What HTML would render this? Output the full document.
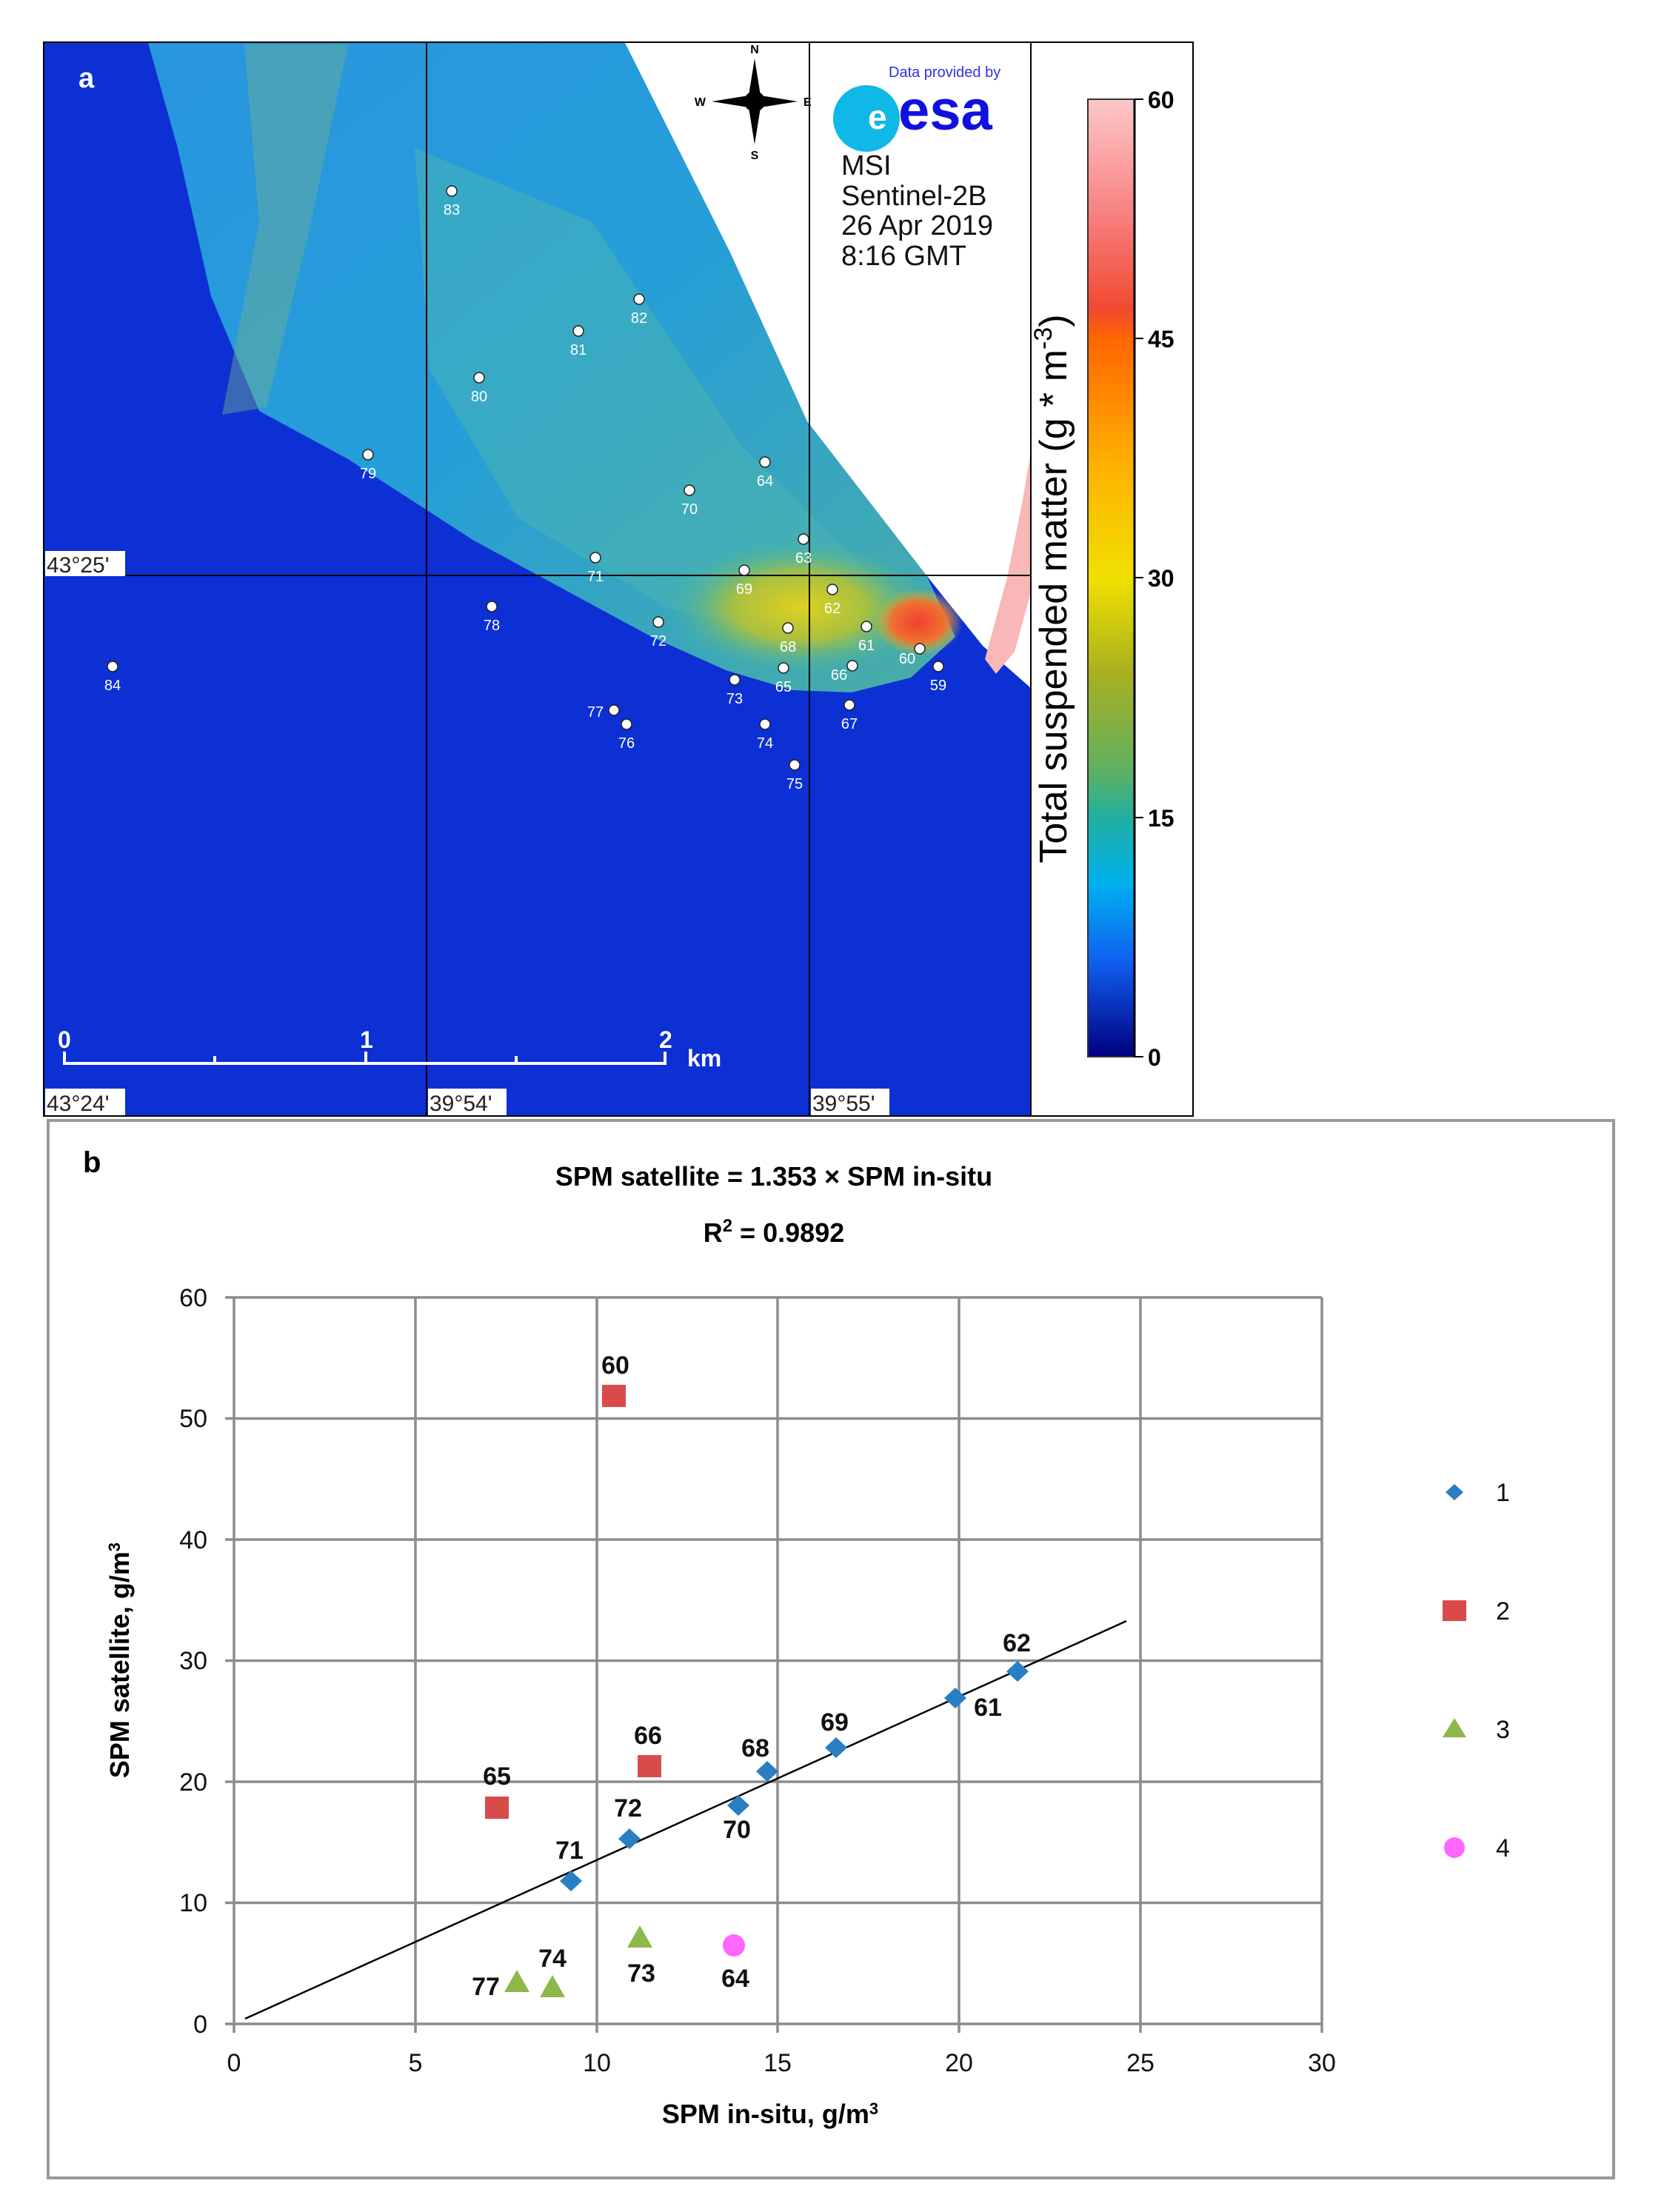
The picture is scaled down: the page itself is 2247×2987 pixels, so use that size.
<!DOCTYPE html>
<html><head><meta charset="utf-8"><style>
html,body{margin:0;padding:0;background:#fff;}
svg{display:block;}
text{font-family:"Liberation Sans",sans-serif;}
</style></head><body>
<svg width="2247" height="2987" viewBox="0 0 2247 2987" xmlns="http://www.w3.org/2000/svg">
<defs>
<linearGradient id="cb" x1="0" y1="0" x2="0" y2="1">
<stop offset="0" stop-color="#fcc8c8"/>
<stop offset="0.12" stop-color="#f88080"/>
<stop offset="0.22" stop-color="#f04a30"/>
<stop offset="0.25" stop-color="#ff6600"/>
<stop offset="0.38" stop-color="#ffb000"/>
<stop offset="0.5" stop-color="#f0e000"/>
<stop offset="0.6" stop-color="#a8b020"/>
<stop offset="0.7" stop-color="#60b060"/>
<stop offset="0.75" stop-color="#20b0a0"/>
<stop offset="0.82" stop-color="#00b0f0"/>
<stop offset="0.9" stop-color="#1060f0"/>
<stop offset="1" stop-color="#000080"/>
</linearGradient>
<radialGradient id="core" cx="0.5" cy="0.5" r="0.5">
<stop offset="0" stop-color="#e0d020"/>
<stop offset="0.5" stop-color="#a8c040"/>
<stop offset="1" stop-color="#40b8a0" stop-opacity="0"/>
</radialGradient>
<radialGradient id="red" cx="0.5" cy="0.5" r="0.5">
<stop offset="0" stop-color="#f04030"/>
<stop offset="0.6" stop-color="#f07030"/>
<stop offset="1" stop-color="#e0c020" stop-opacity="0"/>
</radialGradient>
<linearGradient id="plume" x1="0" y1="0" x2="1" y2="1">
<stop offset="0" stop-color="#2a9ee0"/>
<stop offset="0.5" stop-color="#28a8d8"/>
<stop offset="1" stop-color="#50b8a0"/>
</linearGradient>
</defs>

<!-- Panel a -->
<rect x="59" y="57" width="1552" height="1450" fill="#fff" stroke="#000" stroke-width="2"/>
<rect x="60" y="58" width="1332" height="1448" fill="#0c30d4"/>
<polygon points="200,58 844,58 986,341 1090,569 1251,777 1290,860 1230,915 1150,935 1070,932 980,905 880,860 640,730 470,620 350,555 285,400 240,200" fill="url(#plume)" opacity="0.92"/>
<polygon points="330,60 470,60 420,300 360,550 300,560 350,300" fill="#70b090" opacity="0.45"/>
<polygon points="560,200 800,300 1000,600 1200,800 1150,880 900,820 700,700 580,500" fill="#50b8b0" opacity="0.45"/>
<ellipse cx="1080" cy="820" rx="180" ry="90" fill="url(#core)"/>
<ellipse cx="1240" cy="840" rx="60" ry="45" fill="url(#red)"/>
<polygon points="844,58 1392,58 1392,929 1327,872 1251,777 1090,569 986,341" fill="#fff"/>
<polygon points="1330,890 1360,780 1380,680 1392,610 1392,800 1370,880 1345,910" fill="#f8b8b8"/>
<line x1="576" y1="58" x2="576" y2="1506" stroke="#000" stroke-width="2"/>
<line x1="1093" y1="58" x2="1093" y2="1506" stroke="#000" stroke-width="2"/>
<line x1="60" y1="777" x2="1392" y2="777" stroke="#000" stroke-width="2"/>
<line x1="1392" y1="58" x2="1392" y2="1506" stroke="#000" stroke-width="2"/>
<text x="106" y="118" font-size="38" font-weight="bold" fill="#fff">a</text>
<g transform="translate(1019,137)" fill="#000">
<polygon points="0,-58 8,-8 0,0 -8,-8"/><polygon points="0,58 8,8 0,0 -8,8"/>
<polygon points="-58,0 -8,-8 0,0 -8,8"/><polygon points="58,0 8,-8 0,0 8,8"/>
<circle r="14"/>
<text x="0" y="-65" font-size="16" text-anchor="middle" font-weight="bold">N</text>
<text x="0" y="78" font-size="16" text-anchor="middle" font-weight="bold">S</text>
<text x="-66" y="6" font-size="16" text-anchor="end" font-weight="bold">W</text>
<text x="66" y="6" font-size="16" font-weight="bold">E</text>
</g>
<circle cx="1170" cy="160" r="45" fill="#10b8e8"/>
<text x="1172" y="174" font-size="46" font-weight="bold" fill="#fff">e</text>
<text x="1213" y="175" font-size="76" font-weight="bold" fill="#1010e0">esa</text>
<text x="1200" y="104" font-size="20" fill="#3030e0">Data provided by</text>
<g font-size="38" fill="#111">
<text x="1136" y="236">MSI</text>
<text x="1136" y="277">Sentinel-2B</text>
<text x="1136" y="317">26 Apr 2019</text>
<text x="1136" y="358">8:16 GMT</text>
</g>
<rect x="1469" y="134" width="63" height="1293" fill="url(#cb)" stroke="#333" stroke-width="2"/>
<line x1="1532" y1="134" x2="1532" y2="1427" stroke="#000" stroke-width="3"/>
<g font-size="32" font-weight="bold" fill="#000" font-family="Liberation Mono">
<line x1="1532" y1="134" x2="1544" y2="134" stroke="#000" stroke-width="2"/><text x="1550" y="146">60</text>
<line x1="1532" y1="457" x2="1544" y2="457" stroke="#000" stroke-width="2"/><text x="1550" y="469">45</text>
<line x1="1532" y1="780" x2="1544" y2="780" stroke="#000" stroke-width="2"/><text x="1550" y="792">30</text>
<line x1="1532" y1="1104" x2="1544" y2="1104" stroke="#000" stroke-width="2"/><text x="1550" y="1116">15</text>
<line x1="1532" y1="1427" x2="1544" y2="1427" stroke="#000" stroke-width="2"/><text x="1550" y="1439">0</text>
</g>
<text transform="translate(1440,795) rotate(-90)" font-size="52" text-anchor="middle" fill="#000">Total suspended matter (g * m<tspan dy="-20" font-size="34">-3</tspan><tspan dy="20">)</tspan></text>
<g stroke="#fff" stroke-width="4" fill="none">
<line x1="85" y1="1436" x2="900" y2="1436"/>
<line x1="87" y1="1420" x2="87" y2="1436"/><line x1="290" y1="1426" x2="290" y2="1436"/>
<line x1="494" y1="1420" x2="494" y2="1436"/><line x1="697" y1="1426" x2="697" y2="1436"/>
<line x1="898" y1="1420" x2="898" y2="1436"/>
</g>
<g font-size="32" font-weight="bold" fill="#fff">
<text x="78" y="1415">0</text><text x="486" y="1415">1</text><text x="890" y="1415">2</text><text x="928" y="1440">km</text>
</g>
<g font-size="30" fill="#222">
<rect x="61" y="744" width="108" height="34" fill="#fff"/><text x="63" y="773">43°25'</text>
<rect x="61" y="1470" width="108" height="36" fill="#fff"/><text x="63" y="1500">43°24'</text>
<rect x="578" y="1470" width="106" height="36" fill="#fff"/><text x="580" y="1500">39°54'</text>
<rect x="1095" y="1470" width="106" height="36" fill="#fff"/><text x="1097" y="1500">39°55'</text>
</g>
<g fill="#fff" stroke="#222" stroke-width="1.5">
<circle cx="610" cy="258" r="7"/><circle cx="863" cy="404" r="7"/><circle cx="781" cy="447" r="7"/>
<circle cx="647" cy="510" r="7"/><circle cx="497" cy="614" r="7"/><circle cx="1033" cy="624" r="7"/>
<circle cx="931" cy="662" r="7"/><circle cx="1085" cy="728" r="7"/><circle cx="804" cy="753" r="7"/>
<circle cx="1005" cy="770" r="7"/><circle cx="1124" cy="796" r="7"/><circle cx="664" cy="819" r="7"/>
<circle cx="889" cy="840" r="7"/><circle cx="1064" cy="848" r="7"/><circle cx="1170" cy="846" r="7"/>
<circle cx="1242" cy="876" r="7"/><circle cx="1151" cy="899" r="7"/><circle cx="1058" cy="902" r="7"/>
<circle cx="1267" cy="900" r="7"/><circle cx="152" cy="900" r="7"/><circle cx="992" cy="918" r="7"/>
<circle cx="1147" cy="952" r="7"/><circle cx="829" cy="959" r="7"/><circle cx="846" cy="978" r="7"/>
<circle cx="1033" cy="978" r="7"/><circle cx="1073" cy="1033" r="7"/>
</g>
<g fill="#fff" font-size="20" text-anchor="middle">
<text x="610" y="290">83</text><text x="863" y="436">82</text><text x="781" y="479">81</text>
<text x="647" y="542">80</text><text x="497" y="646">79</text><text x="1033" y="656">64</text>
<text x="931" y="694">70</text><text x="1085" y="760">63</text><text x="804" y="785">71</text>
<text x="1005" y="802">69</text><text x="1124" y="828">62</text><text x="664" y="851">78</text>
<text x="889" y="872">72</text><text x="1064" y="880">68</text><text x="1170" y="878">61</text>
<text x="1225" y="896">60</text><text x="1133" y="918">66</text><text x="1058" y="934">65</text>
<text x="1267" y="932">59</text><text x="152" y="932">84</text><text x="992" y="950">73</text>
<text x="1147" y="984">67</text><text x="804" y="968">77</text><text x="846" y="1010">76</text>
<text x="1033" y="1010">74</text><text x="1073" y="1065">75</text>
</g>

<!-- Panel b -->
<rect x="65" y="1513" width="2114" height="1428" fill="#fff" stroke="#999" stroke-width="4"/>
<text x="112" y="1583" font-size="40" font-weight="bold" fill="#000">b</text>
<text x="1045" y="1601" font-size="36" font-weight="bold" text-anchor="middle">SPM satellite = 1.353 × SPM in-situ</text>
<text x="1045" y="1677" font-size="36" font-weight="bold" text-anchor="middle">R<tspan dy="-14" font-size="24">2</tspan><tspan dy="14"> = 0.9892</tspan></text>
<g stroke="#8c8c8c" stroke-width="3.5">
<line x1="316" y1="1752" x2="1785" y2="1752"/><line x1="316" y1="1915.5" x2="1785" y2="1915.5"/>
<line x1="316" y1="2079" x2="1785" y2="2079"/><line x1="316" y1="2242.5" x2="1785" y2="2242.5"/>
<line x1="316" y1="2406" x2="1785" y2="2406"/><line x1="316" y1="2569.5" x2="1785" y2="2569.5"/>
<line x1="304" y1="2733" x2="1785" y2="2733"/>
<line x1="316" y1="1752" x2="316" y2="2745"/><line x1="561" y1="1752" x2="561" y2="2745"/>
<line x1="806" y1="1752" x2="806" y2="2745"/><line x1="1050" y1="1752" x2="1050" y2="2745"/>
<line x1="1295" y1="1752" x2="1295" y2="2745"/><line x1="1540" y1="1752" x2="1540" y2="2745"/>
<line x1="1785" y1="1752" x2="1785" y2="2745"/>
<line x1="304" y1="1752" x2="316" y2="1752"/><line x1="304" y1="1915.5" x2="316" y2="1915.5"/>
<line x1="304" y1="2079" x2="316" y2="2079"/><line x1="304" y1="2242.5" x2="316" y2="2242.5"/>
<line x1="304" y1="2406" x2="316" y2="2406"/><line x1="304" y1="2569.5" x2="316" y2="2569.5"/>
</g>
<g font-size="34" fill="#111" text-anchor="end">
<text x="280" y="1764">60</text><text x="280" y="1927">50</text><text x="280" y="2091">40</text>
<text x="280" y="2254">30</text><text x="280" y="2418">20</text><text x="280" y="2581">10</text><text x="280" y="2745">0</text>
</g>
<g font-size="34" fill="#111" text-anchor="middle">
<text x="316" y="2797">0</text><text x="561" y="2797">5</text><text x="806" y="2797">10</text>
<text x="1050" y="2797">15</text><text x="1295" y="2797">20</text><text x="1540" y="2797">25</text><text x="1785" y="2797">30</text>
</g>
<text x="1040" y="2867" font-size="36" font-weight="bold" text-anchor="middle">SPM in-situ, g/m<tspan dy="-12" font-size="22">3</tspan></text>
<text transform="translate(174,2242) rotate(-90)" font-size="36" font-weight="bold" text-anchor="middle">SPM satellite, g/m<tspan dy="-12" font-size="22">3</tspan></text>
<line x1="331" y1="2726" x2="1521" y2="2189" stroke="#000" stroke-width="2.5"/>
<g fill="#2a7ec4">
<polygon points="771,2526 786,2540 771,2554 756,2540"/>
<polygon points="850,2469 865,2483 850,2497 835,2483"/>
<polygon points="997,2424 1012,2438 997,2452 982,2438"/>
<polygon points="1036,2378 1051,2392 1036,2406 1021,2392"/>
<polygon points="1129,2346 1144,2360 1129,2374 1114,2360"/>
<polygon points="1290,2279 1305,2293 1290,2307 1275,2293"/>
<polygon points="1374,2243 1389,2257 1374,2271 1359,2257"/>
</g>
<g fill="#d94b4b">
<rect x="813" y="1870" width="32" height="30"/>
<rect x="655" y="2426" width="32" height="30"/>
<rect x="861" y="2370" width="32" height="30"/>
</g>
<g fill="#8db84a">
<polygon points="698,2660 715,2690 681,2690"/>
<polygon points="746,2667 763,2697 729,2697"/>
<polygon points="864,2600 881,2630 847,2630"/>
</g>
<circle cx="991" cy="2627" r="15" fill="#ff66ff"/>
<g font-size="34" font-weight="bold" fill="#111" text-anchor="middle">
<text x="831" y="1855">60</text><text x="671" y="2410">65</text><text x="875" y="2355">66</text>
<text x="769" y="2510">71</text><text x="848" y="2453">72</text><text x="995" y="2482">70</text>
<text x="1020" y="2372">68</text><text x="1127" y="2337">69</text><text x="1334" y="2317">61</text>
<text x="1373" y="2230">62</text><text x="746" y="2656">74</text><text x="656" y="2694">77</text>
<text x="866" y="2676">73</text><text x="993" y="2683">64</text>
</g>
<polygon points="1964,2004 1976,2015 1964,2026 1952,2015" fill="#2a7ec4"/>
<rect x="1948" y="2161" width="32" height="28" fill="#d94b4b"/>
<polygon points="1964,2320 1980,2346 1948,2346" fill="#8db84a"/>
<circle cx="1964" cy="2495" r="14" fill="#ff66ff"/>
<g font-size="34" fill="#111">
<text x="2020" y="2027">1</text><text x="2020" y="2187">2</text><text x="2020" y="2347">3</text><text x="2020" y="2507">4</text>
</g>
</svg>
</body></html>
